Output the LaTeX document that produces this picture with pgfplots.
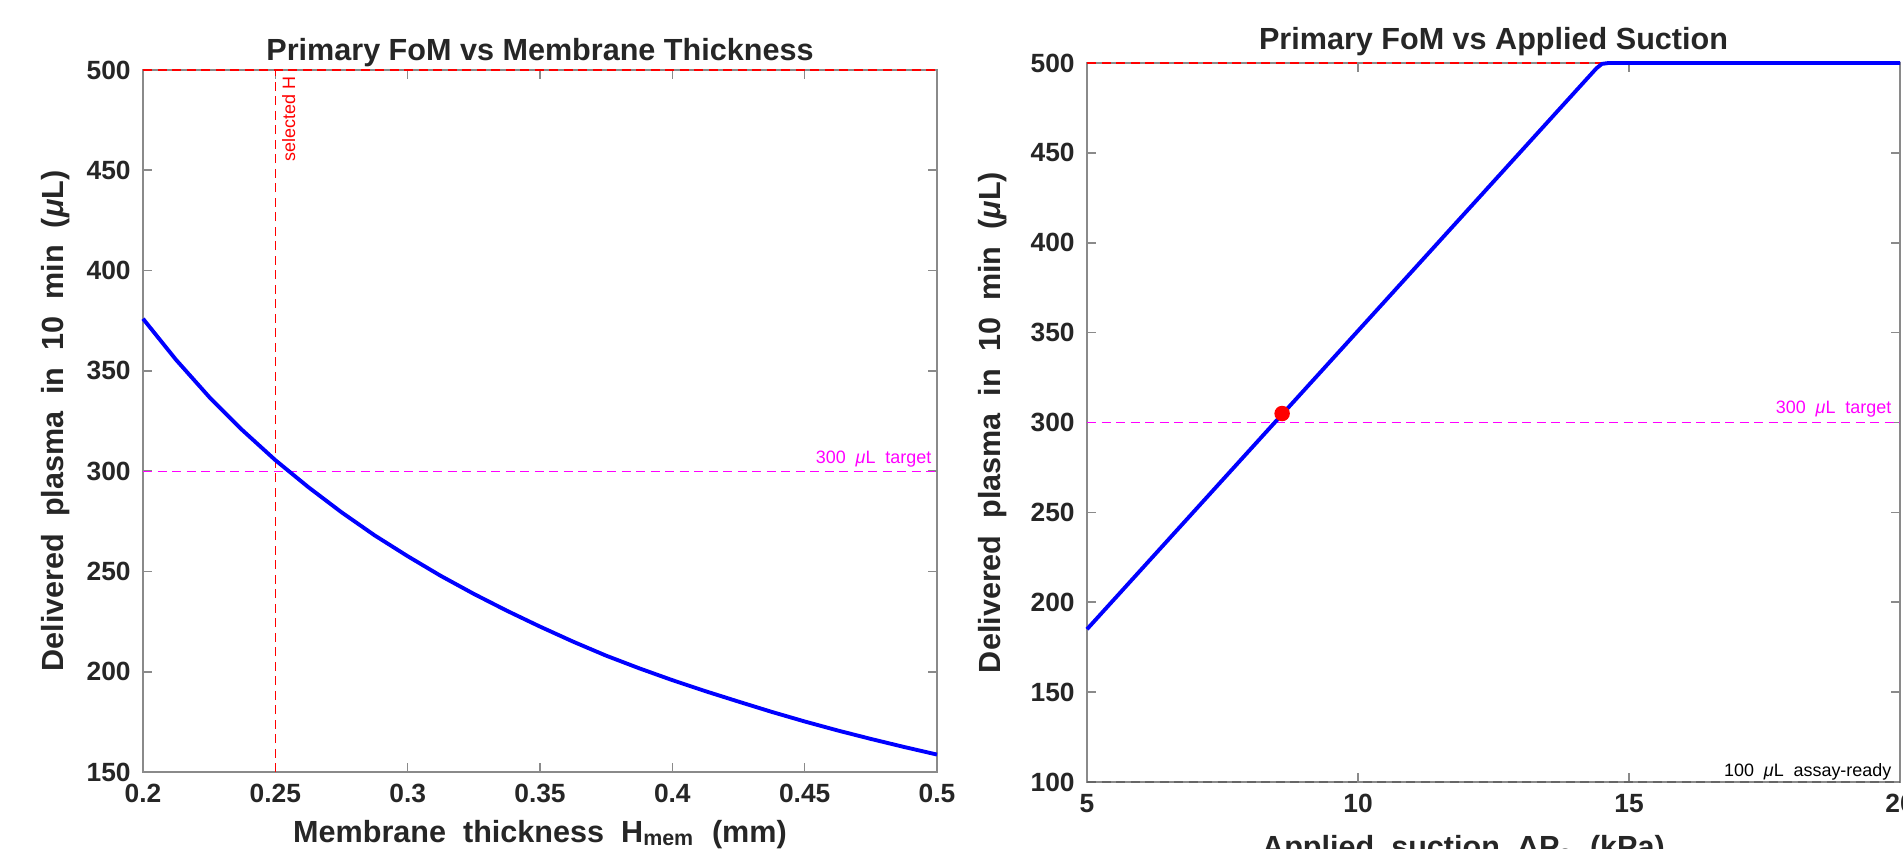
\documentclass[border=0pt]{standalone}
\usepackage{fontspec}
\setmainfont{Liberation Sans}
\usepackage{pgfplots}
\pgfplotsset{compat=1.18}

\definecolor{axgray}{HTML}{8A8A8A}
\definecolor{txt}{HTML}{262626}
\definecolor{mag}{rgb}{1,0,1}

\pgfplotsset{
  matstyle/.style={
    scale only axis, clip=false,
    axis line style={axgray, line width=0.45pt},
    tick style={axgray, line width=0.45pt},
    tick align=inside, major tick length=0.9mm,
    tick label style={font=\fontsize{7.5}{9}\selectfont\bfseries, text=txt},
    /pgf/number format/assume math mode=true,
    label style={font=\fontsize{8.7}{10}\selectfont\bfseries, text=txt},
    xlabel style={at={(axis description cs:0.5,0)}, anchor=base},
  },
}
\tikzset{
  refline/.style={line width=0.3pt, dash pattern=on 0.9mm off 0.55mm},
  note/.style={font=\fontsize{5.1}{6}\selectfont, inner sep=0pt},
  ttl/.style={font=\fontsize{8.7}{10}\selectfont\bfseries, text=txt, anchor=base, inner sep=0pt},
}

\begin{document}
\begin{tikzpicture}

% left: delivered volume vs membrane thickness
\begin{axis}[matstyle,
  at={(1.43cm,0.76cm)}, anchor=south west, width=7.94cm, height=7.02cm,
  xmin=0.2, xmax=0.5, ymin=150, ymax=500,
  xtick={0.2,0.25,0.3,0.35,0.4,0.45,0.5},
  xticklabels={0.2,0.25,0.3,0.35,0.4,0.45,0.5},
  ytick={150,200,250,300,350,400,450,500},
  xlabel={Membrane\ \ thickness\ \ H\textsubscript{mem}\ \ (mm)}, xlabel style={yshift=-7mm},
  ylabel={Delivered\ \ plasma\ \ in\ \ 10\ \ min\ \ (\textit{μ}L)},
  ylabel style={at={(axis description cs:-0.11,0.5)}, anchor=center},
]
\addplot[refline, mag] coordinates {(0.2,300) (0.5,300)};
\addplot[refline, red] coordinates {(0.25,150) (0.25,500)};
\addplot[refline, red] coordinates {(0.2,500) (0.5,500)};
\addplot[blue, line width=1.1pt] coordinates {
  (0.2000,376.0) (0.2125,355.5) (0.2250,337.0) (0.2375,320.5) (0.2500,305.5)
  (0.2625,292.0) (0.2750,279.5) (0.2875,268.0) (0.3000,257.6) (0.3125,247.8)
  (0.3250,238.8) (0.3375,230.4) (0.3500,222.5) (0.3625,215.0) (0.3750,208.0)
  (0.3875,201.7) (0.4000,195.8) (0.4125,190.3) (0.4250,185.1) (0.4375,180.0)
  (0.4500,175.2) (0.4625,170.7) (0.4750,166.5) (0.4875,162.5) (0.5000,158.7)};
\node[note, mag, anchor=base east, xshift=-0.5mm, yshift=0.8mm] at (axis cs:0.5,300) {300\ \ \textit{μ}L\ \ target};
\node[note, red, rotate=90, anchor=north east, inner sep=0.6mm] at (axis cs:0.25,500) {selected H};
\node[ttl, yshift=1mm] at (rel axis cs:0.5,1) {Primary FoM vs Membrane Thickness};
\end{axis}

% right: delivered volume vs applied suction
\begin{axis}[matstyle,
  at={(10.87cm,0.66cm)}, anchor=south west, width=8.13cm, height=7.19cm,
  xmin=5, xmax=20, ymin=100, ymax=500,
  xtick={5,10,15,20},
  ytick={100,150,200,250,300,350,400,450,500},
  xlabel={Applied\ \ suction\ \ ΔP\textsubscript{s}\ \ (kPa)}, xlabel style={yshift=-7.5mm, xshift=-3mm},
  ylabel={Delivered\ \ plasma\ \ in\ \ 10\ \ min\ \ (\textit{μ}L)},
  ylabel style={at={(axis description cs:-0.1156,0.5)}, anchor=center},
]
\addplot[refline, mag] coordinates {(5,300) (20,300)};
\addplot[refline, black!60] coordinates {(5,100) (20,100)};
\addplot[refline, red] coordinates {(5,500) (20,500)};
\addplot[blue, line width=1.1pt] coordinates {
  (5,185) (14.40,497.1) (14.50,499.5) (14.62,500) (20,500)};
\addplot[only marks, mark=*, mark size=2pt, red] coordinates {(8.6,305)};
\node[note, mag, anchor=base east, xshift=-0.8mm, yshift=0.9mm] at (axis cs:20,300) {300\ \ \textit{μ}L\ \ target};
\node[note, black, anchor=base east, xshift=-0.8mm, yshift=0.6mm] at (axis cs:20,100) {100\ \ \textit{μ}L\ \ assay-ready};
\node[ttl, yshift=1.4mm] at (rel axis cs:0.5,1) {Primary FoM vs Applied Suction};
\end{axis}

\pgfresetboundingbox
\path[use as bounding box] (0,0) rectangle (19.03cm,8.48cm);
\end{tikzpicture}
\end{document}
